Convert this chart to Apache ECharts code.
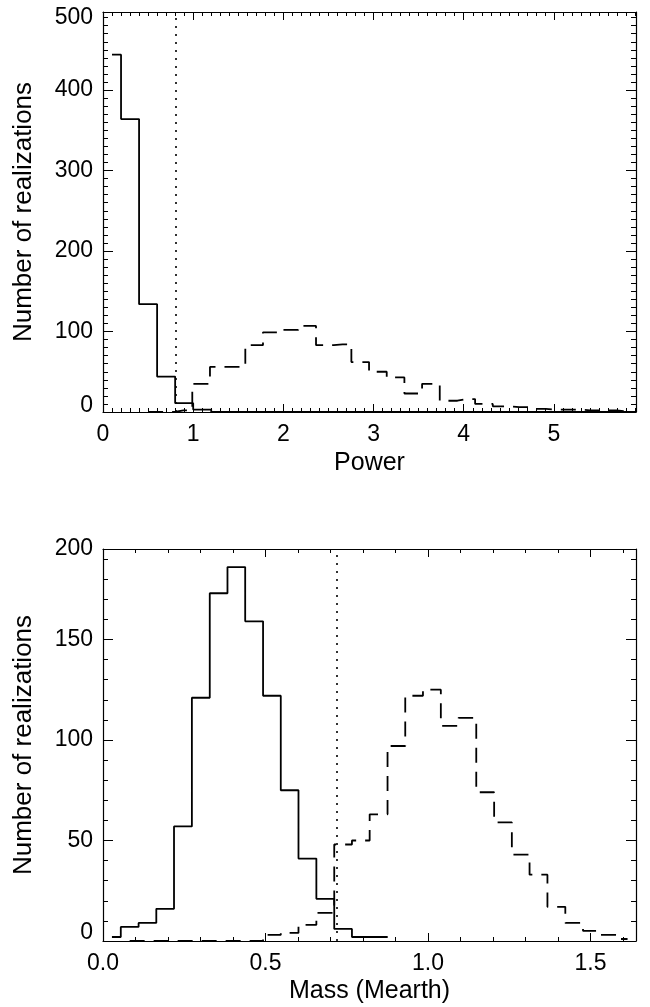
<!DOCTYPE html>
<html><head><meta charset="utf-8">
<script src="https://cdn.jsdelivr.net/npm/echarts@6/dist/echarts.min.js"></script>
<style>html,body{margin:0;padding:0;background:#fff}#c{width:650px;height:1007px}</style>
</head><body><div id="c"></div>
<script>
// ---------- Top panel: Power ----------
const powerSolidX = [0.1,0.3,0.5,0.7,0.9,1.1,1.3,1.5,1.7,1.9,2.1,2.3,2.5,2.7,2.9,3.1,3.3,3.5,3.7,3.9,4.1,4.3,4.5,4.7,4.9,5.1,5.3,5.5,5.7,5.9];
const powerSolidY = [444,364,134,44,11,3,0,0,0,0,0,0,0,0,0,0,0,0,0,0,0,0,0,0,0,0,0,0,0,0];
const powerDashX = [0.50,0.696,0.892,1.088,1.284,1.48,1.676,1.872,2.068,2.264,2.46,2.656,2.852,3.048,3.244,3.44,3.636,3.832,4.028,4.224,4.42,4.616,4.812,5.008,5.204,5.40,5.596,5.792];
const powerDashY = [0,0,2,35,56,56,83,99,102,107,83,84,62,50,43,23,35,14,16,10,7,6,4,3,3,2,2,1];
const powerThreshold = 0.81;
const powerXTicks = ['0','1','2','3','4','5'];
const powerYTicks = ['0','100','200','300','400','500'];

// ---------- Bottom panel: Mass ----------
const massSolidX = [0.0275,0.082,0.137,0.191,0.246,0.301,0.356,0.410,0.465,0.520,0.574,0.629,0.684,0.739,0.793,0.848,0.876];
const massSolidY = [2,7,9,16,57,121,173,186,159,122,75,41,21,6,2,2,2];
const massDashX = [0.082,0.137,0.191,0.246,0.301,0.356,0.410,0.465,0.520,0.574,0.629,0.684,0.739,0.793,0.848,0.903,0.957,1.012,1.067,1.121,1.176,1.231,1.285,1.340,1.395,1.450,1.504,1.559,1.614];
const massDashY = [0,0,0,0,0,0,0,0,3,4,8,14,48,50,63,97,122,125,107,111,74,59,43,33,17,9,5,3,1];
const massThreshold = 0.716;
const massXTicks = ['0.0','0.5','1.0','1.5'];
const massYTicks = ['0','50','100','150','200'];

const FONT = 'Liberation Sans, Arial, Helvetica, sans-serif';
const pairs = (xs, ys) => xs.map((x, i) => [x, ys[i]]);

function yLabel(labels, shiftBottom, shiftTop) {
  return {
    color: '#000', fontFamily: FONT, fontSize: 23, margin: 10,
    formatter: (v, i) => {
      const t = labels[i] !== undefined ? labels[i] : '';
      if (i === 0 && shiftBottom) return '{u|' + t + '}';
      if (i === labels.length - 1 && shiftTop) return '{d|' + t + '}';
      return t;
    },
    rich: {
      u: { fontFamily: FONT, fontSize: 23, color: '#000', padding: [0, 0, shiftBottom * 2, 0] },
      d: { fontFamily: FONT, fontSize: 23, color: '#000', padding: [shiftTop * 2, 0, 0, 0] }
    }
  };
}
function xLabel(labels) {
  return {
    color: '#000', fontFamily: FONT, fontSize: 23, margin: 11,
    showMaxLabel: false,
    formatter: (v, i) => (labels[i] !== undefined ? labels[i] : '')
  };
}
const axLine = { show: true, onZero: false, lineStyle: { color: '#000', width: 1.2 } };
function xAx(grid, min, max, interval, minorSplit, pos, labels, name, gap) {
  return {
    type: 'value', gridIndex: grid, min, max, interval, position: pos,
    axisLine: axLine,
    axisTick: { show: true, inside: true, length: 8, lineStyle: { color: '#000', width: 1 } },
    minorTick: { show: true, inside: true, splitNumber: minorSplit, length: 4, lineStyle: { color: '#000', width: 1 } },
    splitLine: { show: false }, minorSplitLine: { show: false },
    axisLabel: labels ? xLabel(labels) : { show: false },
    name: name || '', nameLocation: 'middle', nameGap: gap || 38,
    nameTextStyle: { color: '#000', fontFamily: FONT, fontSize: 25 }
  };
}
function yAx(grid, min, max, interval, minorSplit, pos, labelCfg, name) {
  return {
    type: 'value', gridIndex: grid, min, max, interval, position: pos,
    axisLine: axLine,
    axisTick: { show: true, inside: true, length: 10, lineStyle: { color: '#000', width: 1 } },
    minorTick: { show: true, inside: true, splitNumber: minorSplit, length: 5, lineStyle: { color: '#000', width: 1 } },
    splitLine: { show: false }, minorSplitLine: { show: false },
    axisLabel: labelCfg || { show: false },
    name: name || '', nameLocation: 'middle', nameGap: 66, nameRotate: 90,
    nameTextStyle: { color: '#000', fontFamily: FONT, fontSize: 26 }
  };
}
function hist(xi, yi, data, dashed) {
  return {
    type: 'line', xAxisIndex: xi, yAxisIndex: yi, step: 'middle', data,
    showSymbol: false, symbol: 'none', silent: true, animation: false,
    lineStyle: { color: '#000', width: 1.8, type: dashed ? [15, 9] : 'solid' }
  };
}
function vline(xi, yi, x) {
  return {
    type: 'line', xAxisIndex: xi, yAxisIndex: yi, data: [], silent: true, animation: false,
    markLine: {
      symbol: 'none', silent: true, animation: false, label: { show: false },
      lineStyle: { color: '#000', width: 1.6, type: [2, 6] },
      data: [{ xAxis: x }]
    }
  };
}

const chart = echarts.init(document.getElementById('c'), null, { renderer: 'canvas' });
chart.setOption({
  backgroundColor: '#fff',
  animation: false,
  grid: [
    { left: 103, top: 12, width: 533, height: 400, show: false },
    { left: 103, top: 549, width: 533, height: 392, show: false }
  ],
  xAxis: [
    xAx(0, 0, 5.91, 1, 10, 'bottom', powerXTicks, 'Power', 39),
    xAx(0, 0, 5.91, 1, 10, 'top', null),
    xAx(1, 0, 1.64, 0.5, 5, 'bottom', massXTicks, 'Mass (Mearth)', 38),
    xAx(1, 0, 1.64, 0.5, 5, 'top', null)
  ],
  yAxis: [
    yAx(0, 0, 497, 100, 10, 'left', yLabel(powerYTicks, 6, 6), 'Number of realizations'),
    yAx(0, 0, 497, 100, 10, 'right', null),
    yAx(1, 0, 195, 50, 5, 'left', yLabel(massYTicks, 8, 0), 'Number of realizations'),
    yAx(1, 0, 195, 50, 5, 'right', null)
  ],
  series: [
    hist(0, 0, pairs(powerSolidX, powerSolidY), false),
    hist(0, 0, pairs(powerDashX, powerDashY), true),
    vline(0, 0, powerThreshold),
    hist(2, 2, pairs(massSolidX, massSolidY), false),
    hist(2, 2, pairs(massDashX, massDashY), true),
    vline(2, 2, massThreshold)
  ]
});
</script></body></html>
